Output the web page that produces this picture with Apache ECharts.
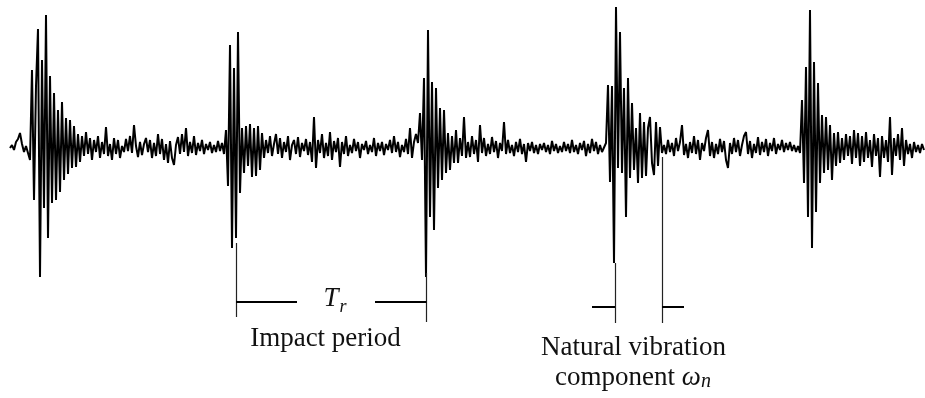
<!DOCTYPE html>
<html>
<head>
<meta charset="utf-8">
<script src="https://cdn.jsdelivr.net/npm/echarts@6/dist/echarts.min.js"></script>
<style>
  html, body { margin: 0; padding: 0; background: #fff; }
  #chart { width: 925px; height: 398px; }
</style>
</head>
<body>
<div id="chart"></div>
<script>
// vibration signal, one sample every 2 px of the original trace (amplitude in px, up = positive)
const lead = [0, 3, -2, 6, 9, 15, 4, -4, 2, -5, -12]
const burst1 = [78, -52, 62, 119, -129, 88, -60, 133, -90, 72,
  -55, 55, -52, 38, -44, 46, -32, 30, -26, 28,
  -20, 22, -19, 14]
const gap1 = [-14, 12, -8, 16, -6, 10, -12, 8, -4, 12,
  -10, 6, -6, 21, -8, 4, -12, 10, -6, 8,
  -10, 2, -4, 9, -3, 12, -5, 23, 2, -9,
  6, -7, 4, 10, -4, 8, -10, 5, -8, 14,
  -6, 9, -12, 4, -15, 7, -10, -17, 3, 11,
  -6, 14, -4, 20, -8, 6, -5, 12, -7, 5,
  -3, 8, -6, 4, -2, 6, -5, 3, -4, 7,
  -3, 5]
const burst2 = [-6, 18, -38, 103, -100, 80, -90, 116, -45, 20,
  -25, 22, -18, 24, -29, 20, -28, 22, -22, 15,
  -10]
const gap2 = [8, -5, 12, -8, 4, 14, -6, 10, -10, 6,
  -4, 12, -12, 3, 8, -6, 11, -9, 5, -3,
  9, -7, 6, -14, 31, -20, 8, -5, 14, -10,
  5, -8, 16, -12, 7, -4, 10, -19, 6, -6,
  12, -8, 3, -5, 9, -3, 6, -10, 4, -2,
  7, -6, 3, -4, 10, -8, 5, -3, 6, -7,
  4, -2, 8, -5, 12, -4, 6, -9, 3, -4,
  9, -6, 20, -10, 6, 14]
const burst3 = [5, 35, -12, 70, -129, 118, -69, 66, -82, 60,
  -40, 40, -32, 38, -25, 15, -22, 12, -15, 18,
  -15, 10, -8, 31, -10]
const gap3 = [6, -9, 12, -6, 8, -14, 23, -5, 10, -8,
  4, -6, 11, -4, 7, -10, 5, -3, 26, -6,
  8, -5, 3, -8, 6, -4, 9, -6, 4, -14,
  5, -3, 6, -5, 3, -6, 4, -2, 5, -4,
  3, -6, 7, -3, 4, -5, 2, -4, 6, -3,
  4, -5, 8, -4, 3, -6, 5, -2, 7, -8,
  4, -5, 9, -3, 6, -6, 3, -4]
const burst4 = [-3, 5, 63, -34, 62, -115, 141, -20, 116, -25,
  60, -69, 70, -30, 45, -22, 20, -35, 35, -30,
  26, -28, 20, 31, -15, -27, 26, -18, 21, -5,
  3]
const gap4 = [-6, 8, -4, 5, -8, 10, -3, 6, 23, -7,
  4, -10, 6, -5, 12, -6, 8, -12, 5, -3,
  10, 18, -8, 6, -10, 4, -6, 9, -4, 7,
  -12, -20, 5, -6, 10, -4, 8, -8, 3, 12,
  16, -6, 7, -10, 4, -5, 11, -7, 6, -4,
  9, -8, 5, -3, 10, -6, 4, -2, 8, -4,
  5, -2, 6, -3, 3, -4]
const burst5 = [2, -5, 48, -35, 81, -69, 138, -100, 86, -64,
  65, -35, 33, -25, 31, -22, 23, -32, 15, -18,
  16, -15]
const tail = [10, -12, 14, -8, 12, -16, 18, -10, 15, -18,
  12, -14, 16, -10, 8, -19, 14, -8, 10, -29,
  12, -10, 8, -14, 31, -27, 10, -8, 14, -12,
  20, -18, 8, -6, 4, -10, 6, -4, 3, -5,
  4, -2]

// annotation brackets, in sample / amplitude units
const periodLines = [
  [[113, -95], [113, -169]],
  [[208.25, -125], [208.25, -174]],
]
const periodBars = [
  [[113, -154], [143.5, -154]],
  [[182.5, -154], [208.25, -154]],
]
const naturalLines = [
  [[302.5, -115], [302.5, -175]],
  [[326, -9], [326, -175]],
]
const naturalBars = [
  [[291, -159], [302.5, -159]],
  [[326, -159], [337, -159]],
]
const labels = [
  { value: [162.5, -151], text: '{t|T}{r|r}' },
  { value: [157.75, -191], text: '{s|Impact period}' },
  { value: [311.75, -200], text: '{s|Natural vibration}' },
  { value: [311.5, -230], text: '{s|component }{w|ω}{n|n}' },
]

const signal = [].concat(lead, burst1, gap1, burst2, gap2, burst3, gap3, burst4, gap4, burst5, tail)
const signalData = signal.map((v, i) => [i, v])

const serif = '"Liberation Serif", "DejaVu Serif", serif'
const ink = '#111'
const toMarkLine = (segs) => segs.map((s) => [{ coord: s[0] }, { coord: s[1] }])

const chart = echarts.init(document.getElementById('chart'))
chart.setOption({
  animation: false,
  backgroundColor: '#fff',
  grid: { left: 0, right: 0, top: 0, bottom: 0 },
  xAxis: { type: 'value', min: -5, max: 457.5, show: false },
  yAxis: { type: 'value', min: -250, max: 148, show: false },
  series: [
    {
      type: 'line',
      data: signalData,
      symbol: 'none',
      lineStyle: { color: '#000', width: 2 },
      z: 3,
    },
    {
      type: 'line',
      data: [],
      markLine: {
        silent: true,
        symbol: 'none',
        label: { show: false },
        lineStyle: { color: '#222', width: 1.2, type: 'solid', opacity: 1 },
        data: toMarkLine(periodLines.concat(naturalLines)),
      },
    },
    {
      type: 'line',
      data: [],
      markLine: {
        silent: true,
        symbol: 'none',
        label: { show: false },
        lineStyle: { color: '#000', width: 2, type: 'solid', opacity: 1 },
        data: toMarkLine(periodBars.concat(naturalBars)),
      },
    },
    {
      type: 'scatter',
      symbolSize: 0,
      silent: true,
      itemStyle: { opacity: 1 },
      data: labels.map((l) => ({ value: l.value, text: l.text })),
      label: {
        show: true,
        position: 'inside',
        opacity: 1,
        formatter: (p) => p.data.text,
        color: ink,
        rich: {
          s: { fontFamily: serif, fontSize: 27, color: ink },
          t: { fontFamily: serif, fontSize: 27, fontStyle: 'italic', color: ink },
          r: { fontFamily: serif, fontSize: 18, fontStyle: 'italic', color: ink, padding: [16, 0, 0, 1] },
          w: { fontFamily: serif, fontSize: 27, fontStyle: 'italic', color: ink },
          n: { fontFamily: serif, fontSize: 20, fontStyle: 'italic', color: ink, padding: [8, 0, 0, 0] },
        },
      },
    },
  ],
})
</script>
</body>
</html>
